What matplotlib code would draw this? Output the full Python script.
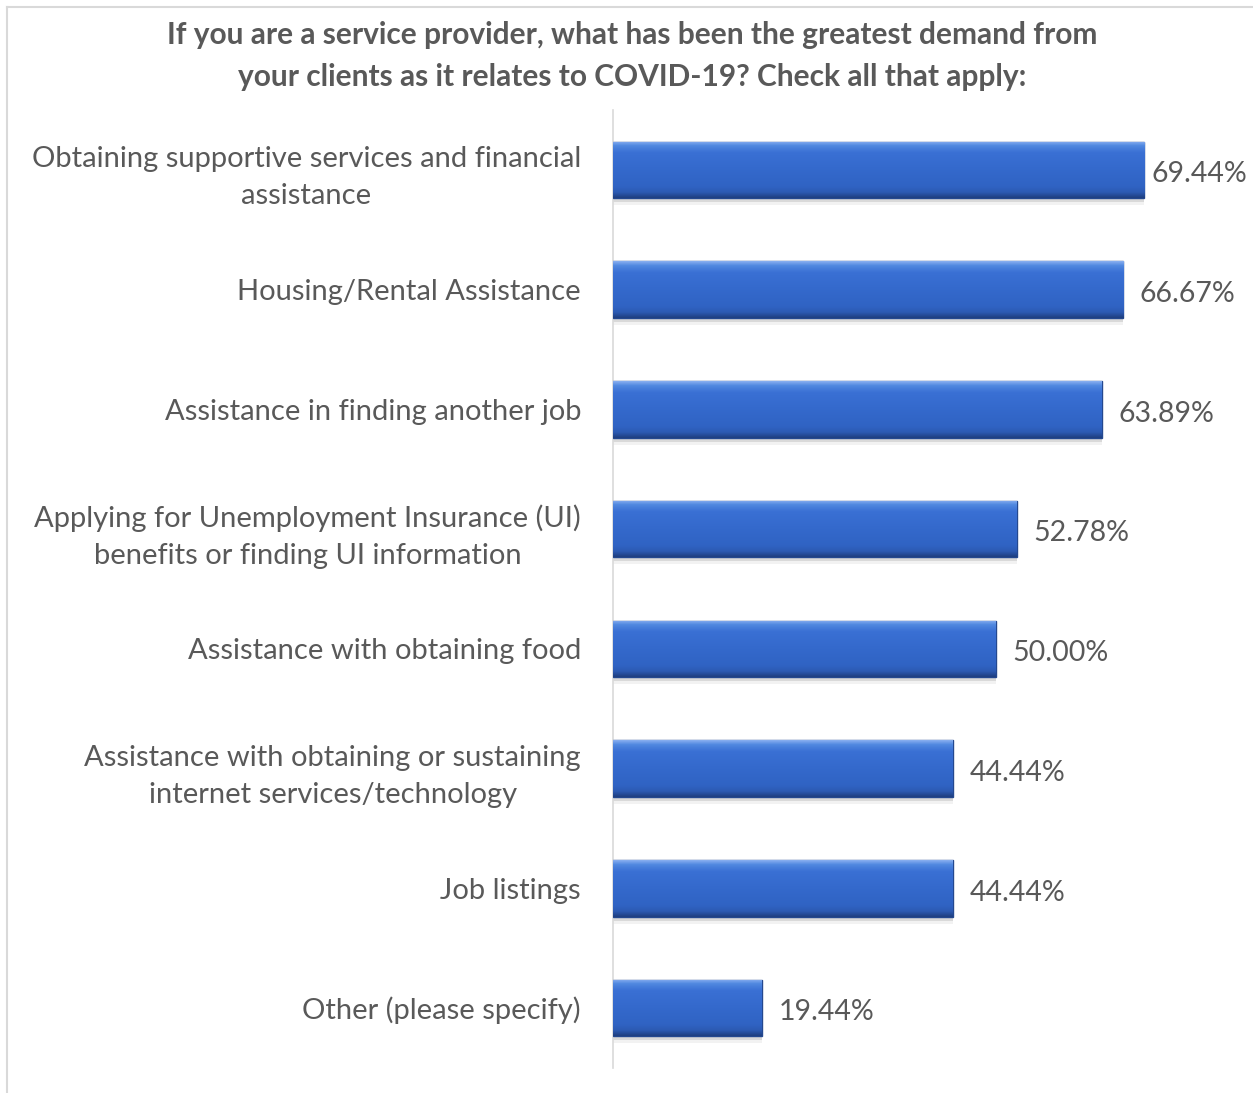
import numpy as np
import matplotlib.pyplot as plt
from matplotlib.colors import LinearSegmentedColormap
from matplotlib.lines import Line2D

# ---------------- data ----------------
categories = [
    "Obtaining supportive services and financial\nassistance",
    "Housing/Rental Assistance",
    "Assistance in finding another job",
    "Applying for Unemployment Insurance (UI)\nbenefits or finding UI information",
    "Assistance with obtaining food",
    "Assistance with obtaining or sustaining\ninternet services/technology",
    "Job listings",
    "Other (please specify)",
]
values = [69.44, 66.67, 63.89, 52.78, 50.00, 44.44, 44.44, 19.44]
title = ("If you are a service provider, what has been the greatest demand from\n"
         "your clients as it relates to COVID-19? Check all that apply:")

# ---------------- style ----------------
plt.rcParams["font.family"] = ["Lato", "DejaVu Sans"]
txt_color = "#595959"
W, H = 1253, 1093

fig = plt.figure(figsize=(W / 100, H / 100), dpi=100)
ax = fig.add_axes([613 / W, 1 - 1068 / H, 612 / W, (1068 - 110) / H])

y = np.arange(len(categories))
bar_h = 0.47

# soft shadow under the bars
ax.barh(y + 0.035, values, height=bar_h, color="#000000", alpha=0.10, zorder=2)
ax.barh(y + 0.06, values, height=bar_h, color="#000000", alpha=0.05, zorder=2)
bars = ax.barh(y, values, height=bar_h, color="#3468CB",
               edgecolor="#24488F", linewidth=1.0, zorder=3)

# vertical gradient inside each bar (bevel look)
cmap = LinearSegmentedColormap.from_list(
    "bevel", [(0.0, "#8AB0F0"), (0.08, "#5088E0"), (0.2, "#3A70D4"),
              (0.5, "#3469CC"), (0.8, "#3063C3"), (0.9, "#2C5AB3"),
              (1.0, "#1E3E7E")])
grad = np.linspace(0, 1, 256).reshape(-1, 1)
for b in bars:
    x0, y0 = b.get_x(), b.get_y()
    w, h = b.get_width(), b.get_height()
    im = ax.imshow(grad, cmap=cmap, aspect="auto", interpolation="bilinear",
                   extent=(x0, x0 + w, y0 + h, y0), zorder=3.5)
    im.set_clip_path(b)

# value labels; the longest bar's label is pulled in so it fits the frame
vmax = max(values)
for yi, v in zip(y, values):
    pad = 5 if v == vmax else 12
    ax.annotate(f"{v:.2f}%", xy=(v, yi), xytext=(pad, -3),
                textcoords="offset points", ha="left", va="center",
                fontsize=20.5, color=txt_color)

ax.set_xlim(0, 80)
ax.set_ylim(len(categories) - 0.5, -0.5)
ax.set_xticks([])
ax.set_yticks(y)
ax.set_yticklabels(categories, fontsize=21, color=txt_color,
                   multialignment="center", linespacing=1.52)
ax.tick_params(axis="y", length=0, pad=23)
for s in ["top", "right", "bottom"]:
    ax.spines[s].set_visible(False)
ax.spines["left"].set_color("#D9D9D9")
ax.spines["left"].set_linewidth(1.2)

fig.text(632 / W, 1 - 56 / H, title, ha="center", va="center", fontsize=21.5,
         fontweight="bold", color=txt_color, linespacing=1.6)

# chart frame (only top and left edges visible in the crop)
fig.add_artist(Line2D([7 / W, 1], [1 - 7 / H, 1 - 7 / H],
                      transform=fig.transFigure, color="#D9D9D9", lw=1.5))
fig.add_artist(Line2D([7 / W, 7 / W], [0, 1 - 7 / H],
                      transform=fig.transFigure, color="#D9D9D9", lw=1.5))

fig.savefig("out.png", dpi=100)
